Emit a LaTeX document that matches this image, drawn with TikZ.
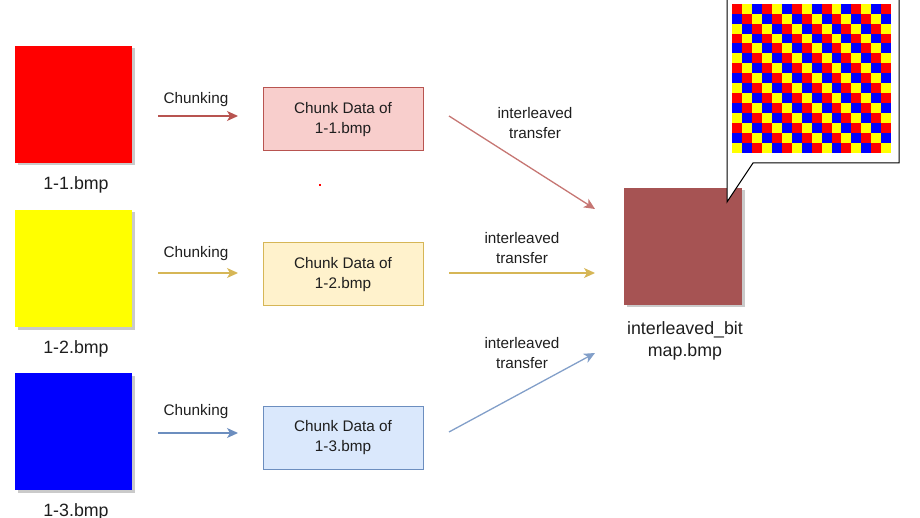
\documentclass[tikz,border=0pt]{standalone}
\usepackage{fontspec}
\setmainfont{Liberation Sans}
\usetikzlibrary{arrows.meta,shadows}
\definecolor{redfill}{HTML}{F8CECC}
\definecolor{redline}{HTML}{B85450}
\definecolor{yelfill}{HTML}{FFF2CC}
\definecolor{yelline}{HTML}{D6B656}
\definecolor{bluefill}{HTML}{DAE8FC}
\definecolor{blueline}{HTML}{6C8EBF}
\definecolor{brownsq}{HTML}{A65353}
\definecolor{txt}{HTML}{1E1E1E}
\definecolor{cb0}{HTML}{FF0000}
\definecolor{cb1}{HTML}{FFFF00}
\definecolor{cb2}{HTML}{0000FF}
\tikzset{
  bigsq/.style={draw=none, minimum width=117pt, minimum height=117pt, inner sep=0pt,
    drop shadow={shadow xshift=2.5pt, shadow yshift=-2.5pt, opacity=0.35, fill=black!60}},
  chunkbox/.style={minimum width=160pt, minimum height=63pt, inner sep=0pt, line width=1pt,
    align=center, text=txt, font=\fontsize{15.3}{19.5}\selectfont},
  smalltxt/.style={align=center, text=txt, inner sep=0pt, font=\fontsize{15.3}{19.5}\selectfont},
  bigtxt/.style={align=center, text=txt, inner sep=0pt, font=\fontsize{17.8}{22}\selectfont},
  flow/.style={line width=1.3pt, -{Stealth[length=11pt, width=10pt, inset=3pt]}}
}
\begin{document}
\begin{tikzpicture}[x=1pt,y=-1pt]
\useasboundingbox (0,0) rectangle (920,518);

% source squares
\node[bigsq, fill=cb0] (r1) at (73.5,104.5) {};
\node[bigsq, fill=cb1] (r2) at (73.5,268.5) {};
\node[bigsq, fill=cb2] (r3) at (73.5,431.5) {};
\node[bigtxt] (l1) at (76,185) {1-1.bmp};
\node[bigtxt] (l2) at (76,349) {1-2.bmp};
\node[bigtxt] (l3) at (76,512) {1-3.bmp};

% chunk boxes
\node[chunkbox, draw=redline, fill=redfill] (c1) at (343,119.5) {Chunk Data of\\1-1.bmp};
\node[chunkbox, draw=yelline, fill=yelfill] (c2) at (343,274.5) {Chunk Data of\\1-2.bmp};
\node[chunkbox, draw=blueline, fill=bluefill] (c3) at (343,437.5) {Chunk Data of\\1-3.bmp};

% chunking arrows
\coordinate (a1s) at (158,116); \coordinate (a1e) at (238,116);
\coordinate (a2s) at (158,273); \coordinate (a2e) at (238,273);
\coordinate (a3s) at (158,433); \coordinate (a3e) at (238,433);
\draw[flow, draw=redline] (a1s) -- (a1e);
\draw[flow, draw=yelline] (a2s) -- (a2e);
\draw[flow, draw=blueline] (a3s) -- (a3e);
\node[smalltxt] (k1) at (196,100) {Chunking};
\node[smalltxt] (k2) at (196,254) {Chunking};
\node[smalltxt] (k3) at (196,412) {Chunking};

% stray dot
\fill[red] (319.2,184.2) rectangle (320.8,185.8);

% target square
\node[bigsq, fill=brownsq, minimum width=118pt] (t) at (683,246.5) {};
\node[bigtxt] (tl) at (685,341) {interleaved\_bit\\map.bmp};

% interleaved arrows
\coordinate (b1s) at (449,116); \coordinate (b1e) at (595,209);
\coordinate (b2s) at (449,273); \coordinate (b2e) at (595,273);
\coordinate (b3s) at (449,432); \coordinate (b3e) at (595,353);
\draw[flow, draw=redline!80] (b1s) -- (b1e);
\draw[flow, draw=yelline] (b2s) -- (b2e);
\draw[flow, draw=blueline!85] (b3s) -- (b3e);
\node[smalltxt] (i1) at (535,123) {interleaved\\transfer};
\node[smalltxt] (i2) at (522,248) {interleaved\\transfer};
\node[smalltxt] (i3) at (522,353) {interleaved\\transfer};

% callout
\draw[fill=white, line width=1pt, line join=miter] (727,-5) -- (727,202) -- (753,163) -- (899,163) -- (899,-5);

% checkerboard
\foreach \i in {0,...,14}{
  \foreach \j in {0,...,15}{
    \pgfmathtruncatemacro\c{mod(\j-\i+30,3)}
    \fill[cb\c] ({732+9.95*\j},{3.7+9.95*\i}) rectangle ({732+9.95*(\j+1)+0.2},{3.7+9.95*(\i+1)+0.2});
  }
}
\end{tikzpicture}
\end{document}
